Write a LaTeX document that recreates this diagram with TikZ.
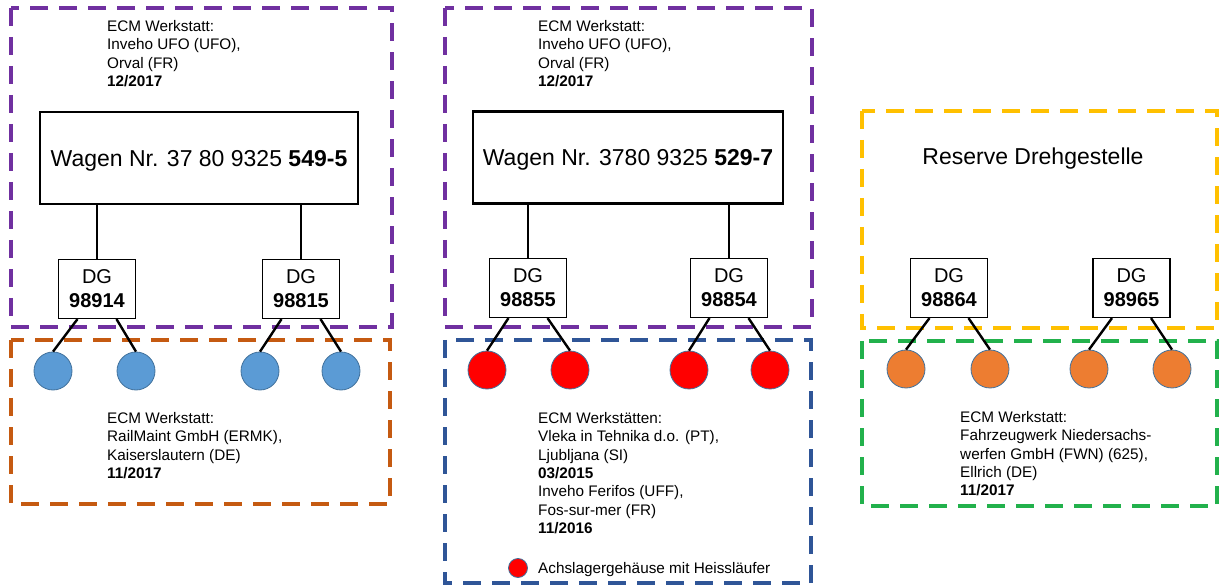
\documentclass[tikz,border=0pt]{standalone}
\usepackage{fontspec}
\setmainfont{Liberation Sans}
\usetikzlibrary{calc}
\definecolor{cpurple}{HTML}{7030A0}
\definecolor{corange}{HTML}{C55A11}
\definecolor{cblueframe}{HTML}{2F5597}
\definecolor{cyellow}{HTML}{FFC000}
\definecolor{cgreen}{HTML}{22B14C}
\definecolor{cwheelblue}{HTML}{5B9BD5}
\definecolor{cwheelorange}{HTML}{ED7D31}
\definecolor{cwheelred}{HTML}{FF0000}
\definecolor{cedge}{HTML}{41719C}
\begin{document}
\begin{tikzpicture}[x=1pt,y=-1pt,
  frame/.style={line width=3.5pt, dash pattern=on 18pt off 11pt},
  wagon/.style={draw, line width=2.6pt, inner sep=0pt, minimum width=318pt, minimum height=92pt,
    font=\fontsize{23}{28}\selectfont, text height=17pt, text depth=0pt},
  dgbox/.style={draw, line width=1.2pt, inner sep=0pt, minimum width=77pt, minimum height=59pt,
    align=center, font=\fontsize{20}{24}\selectfont, fill=white},
  wheel/.style={circle, inner sep=0pt, minimum size=38pt, draw=cedge, line width=0.8pt},
  info/.style={anchor=north west, inner sep=0pt, align=left, font=\fontsize{15.3}{18.4}\selectfont},
  axle/.style={line width=2.4pt},
  link/.style={line width=1.2pt}]
\useasboundingbox (0,0) rectangle (1219,585);

% frames
\draw[frame, cpurple] (11,8) rectangle (392,327);
\draw[frame, corange] (11,340) rectangle (390,504);
\draw[frame, cpurple] (445,8) rectangle (812,327);
\draw[frame, cblueframe] (445,340) rectangle (811,583);
\draw[frame, cyellow] (862,111) rectangle (1217,328);
\draw[frame, cgreen] (862,341) rectangle (1217,506);

% texts
\node[info] (t1) at (107,20) {ECM Werkstatt:\\Inveho UFO (UFO),\\Orval (FR)\\\textbf{12/2017}};
\node[info] (t2) at (538,20) {ECM Werkstatt:\\Inveho UFO (UFO),\\Orval (FR)\\\textbf{12/2017}};
\node[info] (b1) at (107,412) {ECM Werkstatt:\\RailMaint GmbH (ERMK),\\Kaiserslautern (DE)\\\textbf{11/2017}};
\node[info] (b2) at (538,412) {ECM Werkstätten:\\Vleka in Tehnika d.o. (PT),\\Ljubljana (SI)\\\textbf{03/2015}\\Inveho Ferifos (UFF),\\Fos-sur-mer (FR)\\\textbf{11/2016}};
\node[info] (b3) at (960,411) {ECM Werkstatt:\\Fahrzeugwerk Niedersachs-\\werfen GmbH (FWN) (625),\\Ellrich (DE)\\\textbf{11/2017}};
\node[anchor=base, inner sep=0pt, font=\fontsize{23}{28}\selectfont] (res) at (1033,165) {Reserve Drehgestelle};

% wagons
\node[wagon] (w1) at (199,158) {Wagen Nr. 37 80 9325 \textbf{549-5}};
\node[wagon, minimum width=310pt] (w2) at (628,157.5) {Wagen Nr. 3780 9325 \textbf{529-7}};

% bogies
\node[dgbox] (dg1) at (97,289) {DG\\\textbf{98914}};
\node[dgbox] (dg2) at (301,289) {DG\\\textbf{98815}};
\node[dgbox] (dg3) at (528,288) {DG\\\textbf{98855}};
\node[dgbox] (dg4) at (729,288) {DG\\\textbf{98854}};
\node[dgbox] (dg5) at (949,288) {DG\\\textbf{98864}};
\node[dgbox] (dg6) at (1131.5,288) {DG\\\textbf{98965}};

\foreach \d/\w in {dg1/w1, dg2/w1, dg3/w2, dg4/w2}
  \draw[link] (\d.north |- \w.south) -- (\d.north);

% wheels
\node[wheel, fill=cwheelblue] (c1) at (53,371) {};
\node[wheel, fill=cwheelblue] (c2) at (136,371) {};
\node[wheel, fill=cwheelblue] (c3) at (260,371) {};
\node[wheel, fill=cwheelblue] (c4) at (341,371) {};
\node[wheel, fill=cwheelred] (c5) at (487,370) {};
\node[wheel, fill=cwheelred] (c6) at (570,370) {};
\node[wheel, fill=cwheelred] (c7) at (689,370) {};
\node[wheel, fill=cwheelred] (c8) at (770,370) {};
\node[wheel, fill=cwheelorange] (c9) at (906,369) {};
\node[wheel, fill=cwheelorange] (c10) at (990,369) {};
\node[wheel, fill=cwheelorange] (c11) at (1089,369) {};
\node[wheel, fill=cwheelorange] (c12) at (1172,369) {};

\foreach \d/\a/\b in {dg1/c1/c2, dg2/c3/c4, dg3/c5/c6, dg4/c7/c8, dg5/c9/c10, dg6/c11/c12} {
  \draw[axle] ($(\d.south)+(-19.5,0)$) -- (\a.north);
  \draw[axle] ($(\d.south)+(19.5,0)$) -- (\b.north);
}

% legend
\node[wheel, fill=cwheelred, minimum size=19pt] (lg) at (518,568) {};
\node[anchor=base west, inner sep=0pt, font=\fontsize{15.3}{18.4}\selectfont] (lgt) at (538,573) {Achslagergehäuse mit Heissläufer};
\end{tikzpicture}
\end{document}
